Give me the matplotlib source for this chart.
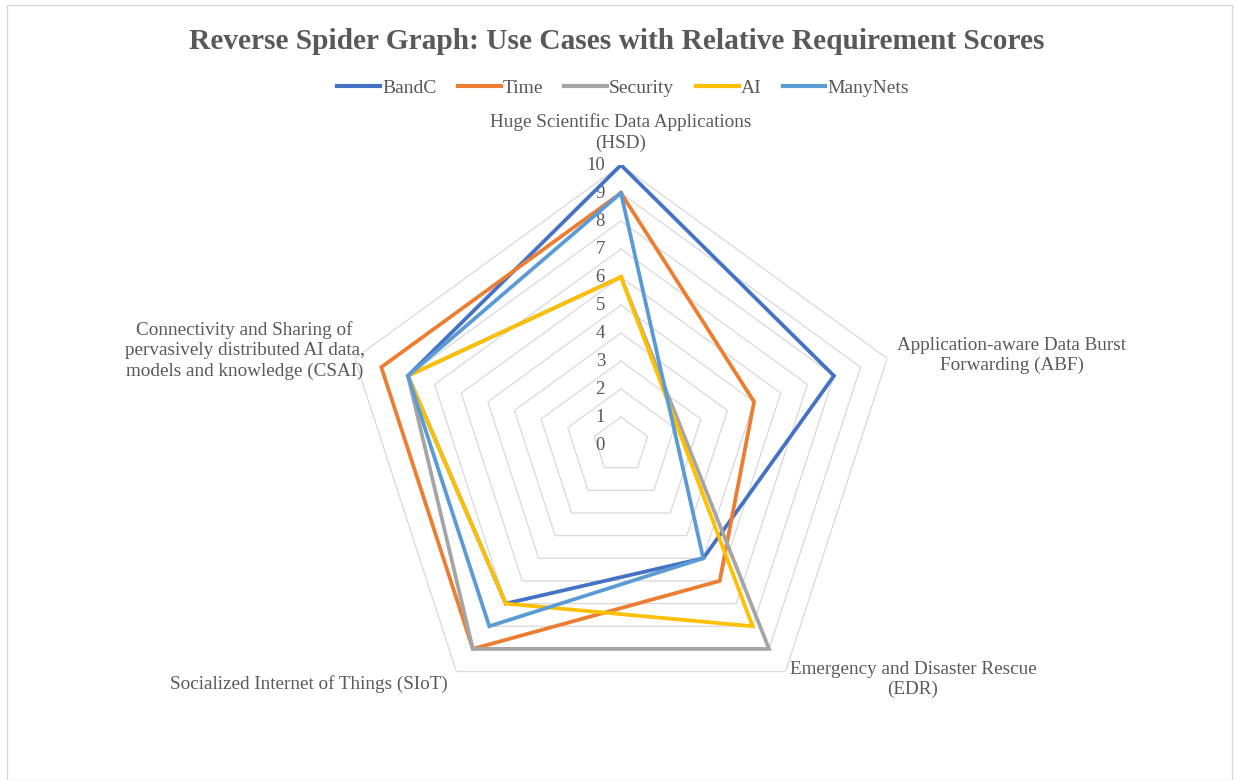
import numpy as np
import matplotlib
matplotlib.use("Agg")
import matplotlib.pyplot as plt
from matplotlib.patches import Rectangle

plt.rcParams['font.family'] = ['Liberation Serif', 'DejaVu Serif']

# axes go clockwise from the top
categories = ["HSD", "ABF", "EDR", "SIoT", "CSAI"]
cat_labels = ["Huge Scientific Data Applications\n(HSD)",
              "Application-aware Data Burst\nForwarding (ABF)",
              "Emergency and Disaster Rescue\n(EDR)",
              "Socialized Internet of Things (SIoT)",
              "Connectivity and Sharing of\npervasively distributed AI data,\nmodels and knowledge (CSAI)"]

series_names = ["BandC", "Time", "Security", "AI", "ManyNets"]
bandc = [10, 8, 5, 7, 8]
time_ = [9, 5, 6, 9, 9]
security = [6, np.nan, 9, 9, 8]   # blank cells in the sheet, excel just skips them
ai = [6, np.nan, 8, 7, 8]
manynets = [9, np.nan, 5, 8, 8]
series_values = [bandc, time_, security, ai, manynets]
colors = ["#4472C4", "#ED7D31", "#A5A5A5", "#FFC000", "#5B9BD5"]

ticks = list(range(0, 11))

txt = "#595959"
grid = "#D9D9D9"

fig = plt.figure(figsize=(12.34, 7.8), dpi=100)
fig.patch.set_facecolor("white")
fig.patches.append(Rectangle((0.006, 0.0), 0.992, 0.993, transform=fig.transFigure,
                             fill=False, edgecolor=grid, lw=1))

ax = fig.add_axes([0.2763, 0.0705, 0.4538, 0.7179], projection="polar")
ax.set_theta_offset(np.pi / 2)
ax.set_theta_direction(-1)
ax.set_ylim(0, 10)
ax.grid(False)
ax.spines["polar"].set_visible(False)
ax.set_xticks([])
ax.set_yticks([])
ax.patch.set_alpha(0)

n = len(categories)
angles = np.arange(n) * 2 * np.pi / n

# pentagon rings
for r in ticks[1:]:
    ax.plot(np.append(angles, angles[0]), [r] * (n + 1), color=grid, lw=0.9, zorder=1)

for r in ticks:
    ax.annotate(str(r), xy=(0, r), xytext=(-16, 0), textcoords="offset pixels",
                ha="right", va="center", fontsize=13.5, color=txt)

for name, vals, c in zip(series_names, series_values, colors):
    vals = np.array(vals, dtype=float)
    ok = ~np.isnan(vals)
    a = angles[ok]
    v = vals[ok]
    ax.plot(np.append(a, a[0]), np.append(v, v[0]), color=c, lw=2.7, label=name,
            zorder=3, solid_joinstyle="miter")

# category labels
lab_pos = [((0, 13), "center", "bottom", "center"),
           ((10, 3), "left", "center", "center"),
           ((4, -8), "left", "center", "center"),
           ((-9, -12), "right", "center", "right"),
           ((10, 8), "right", "center", "center")]
for ang, lab, (off, ha, va, ma) in zip(angles, cat_labels, lab_pos):
    ax.annotate(lab, xy=(ang, 10), xytext=off, textcoords="offset pixels",
                ha=ha, va=va, multialignment=ma, fontsize=13.8, color=txt,
                linespacing=1.27, annotation_clip=False)

fig.text(0.5, 0.947, "Reverse Spider Graph: Use Cases with Relative Requirement Scores",
         ha="center", va="center", fontsize=21.2, fontweight="bold", color=txt)

leg = fig.legend(loc="center", bbox_to_anchor=(0.505, 0.887), ncol=5, frameon=False,
                 fontsize=14, handlelength=2.2, handletextpad=0.1, columnspacing=1.1)
for t in leg.get_texts():
    t.set_color(txt)
for h in leg.legend_handles:
    h.set_linewidth(3.0)

fig.savefig("out.png", dpi=100, facecolor="white")
